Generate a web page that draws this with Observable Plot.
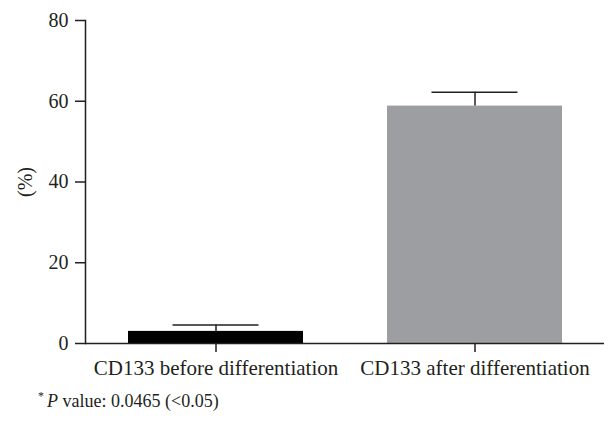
<!DOCTYPE html>
<html>
<head>
<meta charset="utf-8">
<script src="https://cdn.jsdelivr.net/npm/d3@7"></script>
<script src="https://cdn.jsdelivr.net/npm/@observablehq/plot@0.6"></script>
<style>
  body { margin: 0; background: #fff; }
  #chart { position: relative; width: 608px; height: 423px; font-family: "Liberation Serif", serif; color: #231f20; }
  #caption { position: absolute; left: 38px; top: 390px; font-size: 18px; white-space: nowrap; line-height: 1; }
  #caption sup { font-size: 12px; vertical-align: 7px; margin-right: 3px; }
</style>
</head>
<body>
<div id="chart"><div id="caption"><sup>*</sup><i>P</i> value: 0.0465 (&lt;0.05)</div></div>
<script>
const categories = ["CD133 before differentiation", "CD133 after differentiation"];
const means = [3.0, 58.8];
const errors = [1.6, 3.4];
const colors = ["#000000", "#9d9ea1"];
const yTicks = [0, 20, 40, 60, 80];

const data = categories.map((c, i) => ({cat: c, mean: means[i], err: errors[i], color: colors[i]}));

const plot = Plot.plot({
  width: 608,
  height: 385,
  marginTop: 20,
  marginBottom: 42,
  marginLeft: 85,
  marginRight: 4,
  style: {fontFamily: "Liberation Serif, serif", fontSize: "20px", color: "#231f20", background: "#fff"},
  x: {domain: categories, paddingInner: 0.325, paddingOuter: 0.163, label: null},
  y: {domain: [0, 80], ticks: yTicks, label: null},
  marks: [
    Plot.barY(data, {x: "cat", y: "mean", fill: "color"}),
    Plot.ruleX(data, {x: "cat", y1: "mean", y2: d => d.mean + d.err, stroke: "#231f20", strokeWidth: 1.5}),
    Plot.tickY(data, {x: "cat", y: d => d.mean + d.err, stroke: "#231f20", strokeWidth: 1.5, insetLeft: 44.5, insetRight: 44.5}),
    Plot.ruleY([0], {stroke: "#231f20", strokeWidth: 1.5}),
    Plot.axisX({tickSize: 9, tickPadding: 8, stroke: "#231f20", strokeWidth: 1.5, fontSize: 21, label: null}),
    Plot.axisY({ticks: yTicks, tickSize: 10, tickPadding: 7, stroke: "#231f20", strokeWidth: 1.5, fontSize: 20,
      label: "(%)", labelAnchor: "center", labelArrow: "none", labelOffset: 68}),
    Plot.frame({anchor: "left", stroke: "#231f20", strokeWidth: 1.5})
  ]
});
document.getElementById("chart").prepend(plot);
</script>
</body>
</html>
